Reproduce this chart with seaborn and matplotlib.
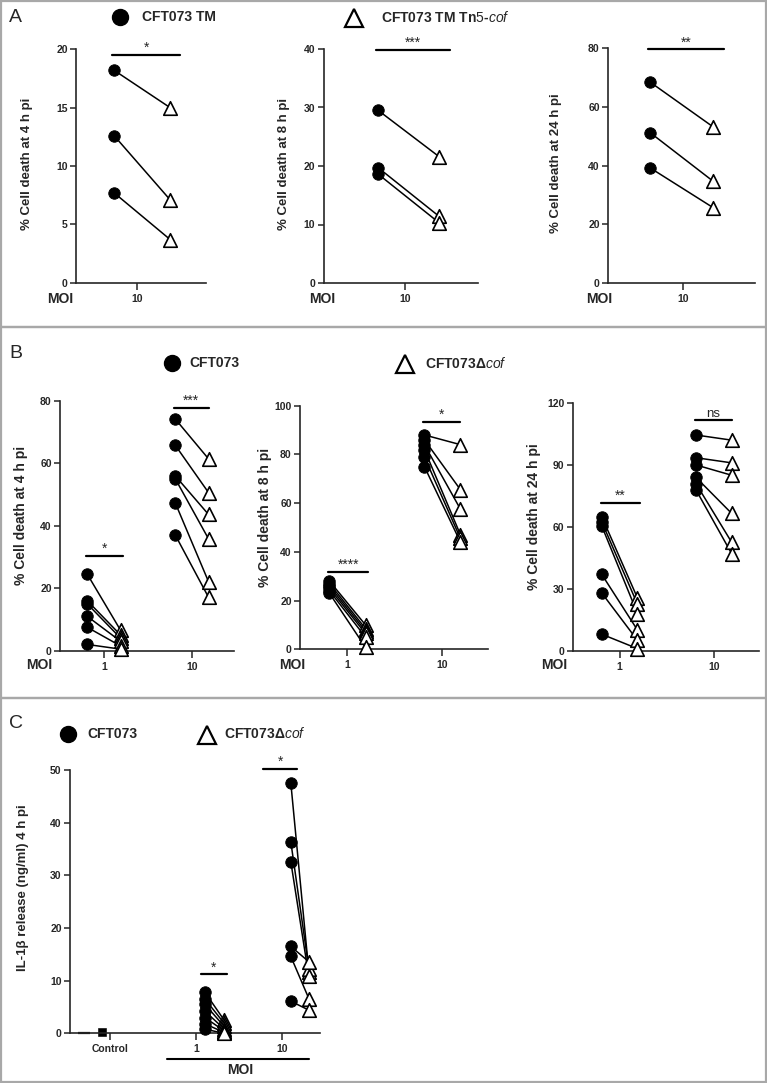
import numpy as np
import pandas as pd
import matplotlib
matplotlib.use("Agg")
import matplotlib.pyplot as plt
from matplotlib.lines import Line2D
from matplotlib.patches import Rectangle
import seaborn as sns

# ---- data ----
# Panel A, MOI 10, three time points
a4_wt = [18.2, 12.6, 7.7]
a4_mut = [15.0, 7.1, 3.7]
a8_wt = [29.5, 19.7, 18.6]
a8_mut = [21.6, 11.4, 10.3]
a24_wt = [68.4, 51.2, 39.2]
a24_mut = [53.2, 34.7, 25.7]

# Panel B, MOI 1 and MOI 10
b4_moi1_wt = [24.5, 16.0, 15.0, 11.0, 7.5, 2.0]
b4_moi1_mut = [6.5, 5.0, 4.0, 3.0, 1.5, 0.5]
b4_moi10_wt = [74.2, 65.8, 56.0, 55.1, 47.4, 37.1]
b4_moi10_mut = [61.4, 50.6, 43.6, 35.8, 22.1, 17.1]

b8_moi1_wt = [28.0, 27.0, 26.0, 25.0, 24.0, 23.0]
b8_moi1_mut = [10.0, 8.5, 7.5, 6.5, 5.0, 0.8]
b8_moi10_wt = [88.0, 86.0, 84.0, 82.0, 79.0, 75.0]
b8_moi10_mut = [84.0, 65.5, 57.5, 47.0, 45.5, 44.0]

b24_moi1_wt = [65.0, 62.5, 60.5, 37.0, 28.0, 8.0]
b24_moi1_mut = [25.5, 22.5, 18.0, 10.0, 5.0, 1.0]
b24_moi10_wt = [104.5, 93.5, 90.0, 84.0, 81.0, 78.0]
b24_moi10_mut = [102.0, 91.0, 85.0, 66.5, 52.5, 47.0]

# Panel C, IL-1b release
c_ctrl_wt = [0.1]
c_ctrl_mut = [0.2]
c_moi1_wt = [7.8, 6.5, 5.5, 4.2, 3.0, 1.8, 0.8]
c_moi1_mut = [2.6, 2.0, 1.4, 0.9, 0.5, 0.2, 0.0]
c_moi10_wt = [47.6, 36.4, 32.6, 16.5, 14.6, 6.1]
c_moi10_mut = [11.7, 12.3, 10.8, 13.6, 6.6, 4.4]

sig_a = ["*", "***", "**"]
sig_b4 = ["*", "***"]
sig_b8 = ["****", "*"]
sig_b24 = ["**", "ns"]
sig_c = ["*", "*"]

# ---- style ----
sns.set_style("ticks")
plt.rcParams["font.family"] = ["Liberation Sans", "DejaVu Sans"]
plt.rcParams["mathtext.fontset"] = "custom"
plt.rcParams["mathtext.it"] = "Liberation Sans:italic"
plt.rcParams["mathtext.rm"] = "Liberation Sans"
plt.rcParams["axes.linewidth"] = 1.2

W, H = 767, 1083
fig = plt.figure(figsize=(W / 100, H / 100), dpi=100)


def add_ax(left, top, right, bottom):
    return fig.add_axes([left / W, 1 - bottom / H, (right - left) / W, (bottom - top) / H])


def ftext(x, y, s, **kw):
    kw.setdefault("ha", "left")
    kw.setdefault("va", "center")
    return fig.text(x / W, 1 - y / H, s, **kw)


def paired(ax, wt, mut, xc, xt):
    n = len(wt)
    df = pd.DataFrame({
        "pair": list(range(n)) * 2,
        "pos": [xc] * n + [xt] * n,
        "value": list(wt) + list(mut),
        "strain": ["wt"] * n + ["mut"] * n,
    })
    sns.lineplot(data=df, x="pos", y="value", units="pair", estimator=None,
                 color="black", lw=1.1, ax=ax, legend=False)
    sns.scatterplot(data=df[df.strain == "wt"], x="pos", y="value", marker="o",
                    color="black", edgecolor="black", s=68, ax=ax,
                    clip_on=False, zorder=3, legend=False)
    sns.scatterplot(data=df[df.strain == "mut"], x="pos", y="value", marker="^",
                    color="white", edgecolor="black", linewidth=1.2, s=95, ax=ax,
                    clip_on=False, zorder=4, legend=False)


def style(ax, ymax, yticks, xticks, xlabels, xlim):
    ax.set_ylim(0, ymax)
    ax.set_xlim(*xlim)
    ax.set_yticks(yticks)
    ax.set_xticks(xticks)
    ax.set_xticklabels(xlabels)
    ax.set_xlabel("")
    ax.set_ylabel("")
    ax.spines[["top", "right"]].set_visible(False)
    ax.spines["left"].set_bounds(0, ymax)
    ax.tick_params(axis="y", length=4, width=1.1, labelsize=7.5, pad=2)
    ax.tick_params(axis="x", length=5, width=1.1, labelsize=7.5, pad=3)
    for lab in ax.get_xticklabels() + ax.get_yticklabels():
        lab.set_fontweight("bold")
    ax.patch.set_alpha(0)


def sigbar(ax, x1, x2, y, label, fs=10):
    ax.plot([x1, x2], [y, y], color="black", lw=1.6, clip_on=False)
    ax.annotate(label, ((x1 + x2) / 2, y), xytext=(0, 0), textcoords="offset points",
                ha="center", va="bottom", fontsize=fs, annotation_clip=False)


# ---- panel borders ----
for (y1, y2) in [(1, 327), (327, 698), (698, 1082)]:
    fig.patches.append(Rectangle((1 / W, 1 - y2 / H), 765 / W, (y2 - y1) / H,
                                 transform=fig.transFigure, fill=False,
                                 ec="#a8a8a8", lw=1.6))

# ---- panel A ----
ftext(9, 17, "A", fontsize=14)
fig.add_artist(Line2D([120 / W], [1 - 17 / H], marker="o", ms=11.5, color="black",
                      transform=fig.transFigure))
ftext(142, 17, "CFT073 TM", fontsize=10, fontweight="bold")
fig.add_artist(Line2D([354 / W], [1 - 18 / H], marker="^", ms=13.5, mfc="white",
                      mec="black", mew=1.6, transform=fig.transFigure))
ftext(381, 17, r"CFT073 TM Tn$\mathit{5}$-$\mathit{cof}$", fontsize=10, fontweight="bold")

a_specs = [
    ((76, 49.3, 206, 282.7), a4_wt, a4_mut, 20, [0, 5, 10, 15, 20], (-1.18, 1.14), -0.09,
     19.5, "% Cell death at 4 h pi", 27, 60),
    ((323.5, 49, 478, 283), a8_wt, a8_mut, 40, [0, 10, 20, 30, 40], (-1.40, 1.14), -0.06,
     39.8, "% Cell death at 8 h pi", 284, 322),
    ((608, 48, 755, 283), a24_wt, a24_mut, 80, [0, 20, 40, 60, 80], (-1.17, 1.17), 0.02,
     79.5, "% Cell death at 24 h pi", 556, 599),
]
for i, (box, wt, mut, ymax, yt, xl, tick, ybar, ylab, ylx, moix) in enumerate(a_specs):
    ax = add_ax(*box)
    paired(ax, wt, mut, -0.5, 0.5)
    style(ax, ymax, yt, [tick], ["10"], xl)
    sigbar(ax, -0.53, 0.68, ybar, sig_a[i])
    ftext(ylx, (box[1] + box[3]) / 2 - 2, ylab, rotation=90, ha="center",
          fontsize=9.5, fontweight="bold")
    ftext(moix, 299, "MOI", ha="center", fontsize=10, fontweight="bold")

# ---- panel B ----
ftext(9, 353, "B", fontsize=14)
fig.add_artist(Line2D([172 / W], [1 - 363 / H], marker="o", ms=11.5, color="black",
                      transform=fig.transFigure))
ftext(189, 363, "CFT073", fontsize=10, fontweight="bold")
fig.add_artist(Line2D([405 / W], [1 - 364 / H], marker="^", ms=13.5, mfc="white",
                      mec="black", mew=1.6, transform=fig.transFigure))
ftext(425, 363, r"CFT073Δ$\mathit{cof}$", fontsize=10, fontweight="bold")

b_specs = [
    ((60, 400.7, 234, 650.7), b4_moi1_wt, b4_moi1_mut, b4_moi10_wt, b4_moi10_mut,
     80, [0, 20, 40, 60, 80], (30.4, 77.8), sig_b4, "% Cell death at 4 h pi", 21, 39),
    ((300, 405.7, 488, 649.3), b8_moi1_wt, b8_moi1_mut, b8_moi10_wt, b8_moi10_mut,
     100, [0, 20, 40, 60, 80, 100], (31.9, 93.4), sig_b8, "% Cell death at 8 h pi", 265, 292),
    ((572.5, 403, 759, 650.7), b24_moi1_wt, b24_moi1_mut, b24_moi10_wt, b24_moi10_mut,
     120, [0, 30, 60, 90, 120], (71.7, 111.8), sig_b24, "% Cell death at 24 h pi", 534, 554),
]
for box, w1, m1, w10, m10, ymax, yt, ybars, sigs, ylab, ylx, moix in b_specs:
    ax = add_ax(*box)
    paired(ax, w1, m1, -0.19, 0.19)
    paired(ax, w10, m10, 0.81, 1.19)
    style(ax, ymax, yt, [0, 1], ["1", "10"], (-0.5, 1.48))
    sigbar(ax, -0.2, 0.22, ybars[0], sigs[0])
    sigbar(ax, 0.8, 1.19, ybars[1], sigs[1], fs=9.5 if sigs[1] == "ns" else 10)
    ftext(ylx, (box[1] + box[3]) / 2 - 10, ylab, rotation=90, ha="center",
          fontsize=10, fontweight="bold")
    ftext(moix, 665, "MOI", ha="center", fontsize=10, fontweight="bold")

# ---- panel C ----
ftext(9, 723, "C", fontsize=14)
fig.add_artist(Line2D([68 / W], [1 - 734 / H], marker="o", ms=11.5, color="black",
                      transform=fig.transFigure))
ftext(87, 734, "CFT073", fontsize=10, fontweight="bold")
fig.add_artist(Line2D([207 / W], [1 - 735 / H], marker="^", ms=13.5, mfc="white",
                      mec="black", mew=1.6, transform=fig.transFigure))
ftext(224, 734, r"CFT073Δ$\mathit{cof}$", fontsize=10, fontweight="bold")

ax = add_ax(70, 770, 320, 1033.3)
sns.scatterplot(x=[-0.31] * len(c_ctrl_wt), y=c_ctrl_wt, marker="_", s=70,
                color="black", linewidth=1.6, ax=ax, clip_on=False, legend=False)
sns.scatterplot(x=[-0.1] * len(c_ctrl_mut), y=c_ctrl_mut, marker="s", s=28,
                color="black", edgecolor="black", ax=ax, clip_on=False, legend=False)
paired(ax, c_moi1_wt, c_moi1_mut, 1.1, 1.32)
paired(ax, c_moi10_wt, c_moi10_mut, 2.1, 2.31)
style(ax, 50, [0, 10, 20, 30, 40, 50], [0, 1, 2], ["Control", "1", "10"], (-0.47, 2.44))
sigbar(ax, 1.05, 1.36, 11.2, sig_c[0])
sigbar(ax, 1.78, 2.17, 50.2, sig_c[1])
ftext(23, 888, "IL-1β release (ng/ml) 4 h pi", rotation=90, ha="center",
      fontsize=9.5, fontweight="bold")
fig.add_artist(Line2D([167 / W, 309 / W], [1 - 1059 / H] * 2, color="black", lw=1.5,
                      transform=fig.transFigure))
ftext(240, 1070, "MOI", ha="center", fontsize=10, fontweight="bold")

fig.savefig("out.png", dpi=100)
